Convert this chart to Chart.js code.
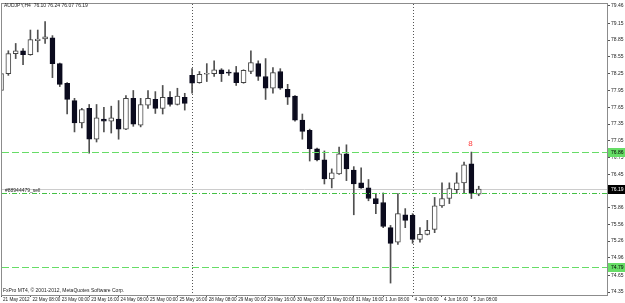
<!DOCTYPE html>
<html>
<head>
<meta charset="utf-8">
<script src="https://cdn.jsdelivr.net/npm/chart.js@4.4.0/dist/chart.umd.min.js"></script>
<style>
  html, body { margin: 0; padding: 0; background: #fff; }
  canvas { display: block; }
</style>
</head>
<body>
<canvas id="chart" width="625" height="303"></canvas>
<script>
// AUDJPY H4 candles, 21 May 16:00 .. 5 Jun 12:00
const opens = [77.95, 78.25, 78.61, 78.66, 78.59, 78.84, 78.87, 78.89, 78.43, 78.08,
  77.77, 77.37, 77.63, 77.08, 77.44, 77.40, 77.44, 77.26, 77.81, 77.33,
  77.69, 77.79, 77.63, 77.83, 77.70, 77.83, 78.22, 78.09, 78.24, 78.25,
  78.32, 78.27, 78.27, 78.09, 78.29, 78.43, 78.20, 77.99, 78.29, 77.97,
  77.85, 77.42, 77.24, 76.91, 76.71, 76.37, 76.46, 76.82, 76.53, 76.30,
  76.21, 76.02, 75.95, 75.50, 75.24, 75.73, 75.72, 75.29, 75.38, 75.47,
  75.89, 76.02, 76.18, 76.30, 76.64, 76.10];
const highs = [78.32, 78.66, 78.79, 78.70, 79.03, 79.03, 79.18, 78.93, 78.44, 78.09,
  77.81, 77.63, 77.70, 77.70, 77.65, 77.67, 77.77, 77.86, 77.95, 77.81,
  77.95, 77.93, 78.04, 77.93, 77.99, 77.90, 78.34, 78.29, 78.43, 78.48,
  78.34, 78.32, 78.38, 78.32, 78.66, 78.48, 78.52, 78.36, 78.34, 78.06,
  77.86, 77.53, 77.26, 76.92, 76.87, 76.55, 76.94, 76.98, 76.59, 76.57,
  76.36, 76.11, 76.12, 75.54, 76.11, 75.84, 75.75, 75.50, 75.63, 76.04,
  76.30, 76.30, 76.48, 76.67, 76.85, 76.24];
const lows = [77.85, 78.22, 78.52, 78.41, 78.58, 78.64, 78.79, 78.18, 78.02, 77.53,
  77.21, 77.28, 76.83, 77.03, 77.21, 77.19, 77.08, 77.25, 77.31, 77.30,
  77.63, 77.54, 77.53, 77.67, 77.69, 77.60, 77.90, 78.08, 78.11, 78.20,
  78.11, 78.22, 78.04, 78.08, 78.25, 78.13, 77.79, 77.90, 77.97, 77.70,
  77.40, 77.08, 76.69, 76.69, 76.28, 76.21, 76.45, 76.34, 75.73, 76.20,
  75.98, 75.75, 75.50, 74.51, 75.20, 75.50, 75.22, 75.24, 75.37, 75.41,
  75.86, 75.93, 76.11, 76.11, 76.02, 76.07];
const closes = [78.25, 78.61, 78.66, 78.59, 78.86, 78.87, 78.91, 78.43, 78.06, 77.79,
  77.37, 77.61, 77.08, 77.46, 77.40, 77.46, 77.26, 77.81, 77.35, 77.70,
  77.81, 77.63, 77.83, 77.70, 77.85, 77.72, 78.08, 78.24, 78.25, 78.32,
  78.25, 78.26, 78.09, 78.31, 78.45, 78.20, 77.99, 78.27, 77.99, 77.83,
  77.42, 77.22, 76.91, 76.71, 76.37, 76.48, 76.82, 76.55, 76.28, 76.21,
  76.02, 75.93, 75.52, 75.22, 75.75, 75.63, 75.29, 75.38, 75.45, 75.89,
  76.02, 76.20, 76.30, 76.62, 76.11, 76.19];

// time axis labels, one every 4 bars
const timeLabels = ['21 May 2012', '22 May 08:00', '23 May 00:00', '23 May 16:00', '24 May 08:00',
  '25 May 00:00', '25 May 16:00', '28 May 08:00', '29 May 00:00', '29 May 16:00', '30 May 08:00',
  '31 May 00:00', '31 May 16:00', '1 Jun 08:00', '4 Jun 00:00', '4 Jun 16:00', '5 Jun 08:00'];
const timeIdx = [0, 4, 8, 12, 16, 20, 24, 28, 32, 36, 40, 44, 48, 52, 56, 60, 64];

// price axis labels
const priceTicks = [79.46, 79.15, 78.85, 78.55, 78.25, 77.95, 77.65, 77.35, 77.05, 76.75,
  76.45, 76.15, 75.86, 75.56, 75.26, 74.96, 74.65, 74.35];

// objects on the chart
const dashLevels = [76.86, 74.79];
const dashDotLevels = [76.12];
const bidPrice = 76.19;
const weekSeparators = [26, 56];
const orderLabel = '#88944479_sell';
const arrowBar = 64, arrowPrice = 77.00;
const titleText = 'AUDJPY,H4  76.10 76.24 76.07 76.19';
const copyText = 'FxPro MT4, \u00a9 2001-2012, MetaQuotes Software Corp.';

const FONT_FAMILY = "'Liberation Sans', Arial, sans-serif";
const BULL = '#ffffff', BEAR = '#0b0b1e', WICK = '#505050', LEVEL = '#66dd66';

const wickData = highs.map((h, i) => ({ x: i, y: [lows[i], h] }));
const bodyData = opens.map((o, i) => ({ x: i, y: [o, closes[i]] }));
const isBull = opens.map((o, i) => closes[i] >= o);

const overlay = {
  id: 'mtOverlay',
  beforeDraw(chart) {
    const ctx = chart.ctx;
    ctx.save();
    ctx.fillStyle = '#ffffff';
    ctx.fillRect(0, 0, chart.width, chart.height);
    ctx.restore();
  },
  beforeDatasetsDraw(chart) {
    const { ctx, chartArea: a, scales: { x, y } } = chart;
    ctx.save();
    // bid line
    let py = Math.round(y.getPixelForValue(bidPrice)) + 0.5;
    ctx.strokeStyle = '#cccccc';
    ctx.lineWidth = 1;
    ctx.beginPath(); ctx.moveTo(a.left, py); ctx.lineTo(a.right, py); ctx.stroke();
    // week separators
    ctx.strokeStyle = '#555';
    ctx.setLineDash([1, 2]);
    weekSeparators.forEach(b => {
      const px = Math.round(x.getPixelForValue(b)) + 0.5;
      ctx.beginPath(); ctx.moveTo(px, a.top); ctx.lineTo(px, a.bottom); ctx.stroke();
    });
    ctx.restore();
  },
  afterDatasetsDraw(chart) {
    const { ctx, chartArea: a, scales: { y } } = chart;
    ctx.save();
    ctx.strokeStyle = LEVEL;
    ctx.lineWidth = 1;
    ctx.setLineDash([7, 3]);
    dashLevels.forEach(v => {
      const py = Math.round(y.getPixelForValue(v)) + 0.5;
      ctx.beginPath(); ctx.moveTo(a.left, py); ctx.lineTo(a.right, py); ctx.stroke();
    });
    ctx.strokeStyle = '#44c044';
    ctx.setLineDash([5, 2, 1, 2]);
    dashDotLevels.forEach(v => {
      const py = Math.round(y.getPixelForValue(v)) + 0.5;
      ctx.beginPath(); ctx.moveTo(a.left, py); ctx.lineTo(a.right, py); ctx.stroke();
    });
    ctx.restore();
  },
  afterDraw(chart) {
    const { ctx, chartArea: a, scales: { x, y } } = chart;
    ctx.save();
    // frame
    ctx.strokeStyle = '#8c8c8c';
    ctx.lineWidth = 1;
    ctx.strokeRect(a.left - 0.5, a.top - 0.5, a.right - a.left + 1, a.bottom - a.top + 1);

    ctx.font = '5px ' + FONT_FAMILY;
    ctx.fillStyle = '#222';
    ctx.textBaseline = 'middle';
    ctx.textAlign = 'left';
    ctx.fillText(titleText, 4, 6);
    ctx.fillText(copyText, 3, 291);
    const dd = y.getPixelForValue(dashDotLevels[0]);
    ctx.fillText(orderLabel, 5, dd - 2.5);

    // red marker above the big bar
    ctx.fillStyle = '#ff3c3c';
    ctx.font = '8px ' + FONT_FAMILY;
    ctx.textAlign = 'center';
    ctx.fillText('8', x.getPixelForValue(arrowBar) - 1, y.getPixelForValue(arrowPrice));

    // price boxes on the axis
    ctx.font = '5px ' + FONT_FAMILY;
    ctx.textAlign = 'left';
    const boxes = dashLevels.map(v => ({ v, bg: LEVEL, fg: '#000' }))
      .concat([{ v: bidPrice, bg: '#000', fg: '#fff' }]);
    boxes.forEach(b => {
      const py = Math.round(y.getPixelForValue(b.v));
      ctx.fillStyle = b.bg;
      ctx.fillRect(a.right + 1, py - 4, chart.width - a.right - 1, 9);
      ctx.fillStyle = b.fg;
      ctx.fillText(b.v.toFixed(2), a.right + 4, py + 0.5);
    });
    ctx.restore();
  }
};

new Chart(document.getElementById('chart'), {
  type: 'bar',
  data: {
    datasets: [{
      label: 'body',
      data: bodyData,
      order: 1,
      grouped: false,
      barThickness: 5,
      minBarLength: 1,
      borderWidth: 1,
      borderSkipped: false,
      backgroundColor: isBull.map(b => b ? BULL : BEAR),
      borderColor: isBull.map(b => b ? '#444' : BEAR),
      clip: 0
    }, {
      label: 'wick',
      data: wickData,
      order: 2,
      grouped: false,
      barThickness: 1,
      borderWidth: 0,
      backgroundColor: WICK,
      clip: 0
    }]
  },
  plugins: [overlay],
  options: {
    responsive: false,
    animation: false,
    devicePixelRatio: 1,
    layout: { padding: { left: 2, top: 2, right: 0, bottom: 0 } },
    plugins: {
      legend: { display: false },
      tooltip: { enabled: false }
    },
    scales: {
      x: {
        type: 'linear',
        offset: false,
        min: 0.136,
        max: 82.45,
        grid: { drawOnChartArea: false, drawTicks: true, tickLength: 2, color: '#555', offset: false },
        border: { display: false },
        ticks: {
          autoSkip: false, maxRotation: 0, minRotation: 0,
          align: 'start', labelOffset: 2, padding: 0,
          color: '#222',
          font: { family: FONT_FAMILY, size: 4.6 },
          callback: v => timeLabels[timeIdx.indexOf(v)]
        },
        afterBuildTicks: s => { s.ticks = timeIdx.map(v => ({ value: v })); },
        afterFit: s => { s.height = 8; }
      },
      y: {
        type: 'linear',
        position: 'right',
        min: 74.297,
        max: 79.495,
        grid: { drawOnChartArea: false, drawTicks: true, tickLength: 3, color: '#555' },
        border: { display: false },
        ticks: {
          autoSkip: false, padding: 1,
          color: '#222',
          font: { family: FONT_FAMILY, size: 5 },
          callback: v => v.toFixed(2)
        },
        afterBuildTicks: s => { s.ticks = priceTicks.map(v => ({ value: v })); },
        afterFit: s => { s.width = 18; }
      }
    }
  }
});
</script>
</body>
</html>
